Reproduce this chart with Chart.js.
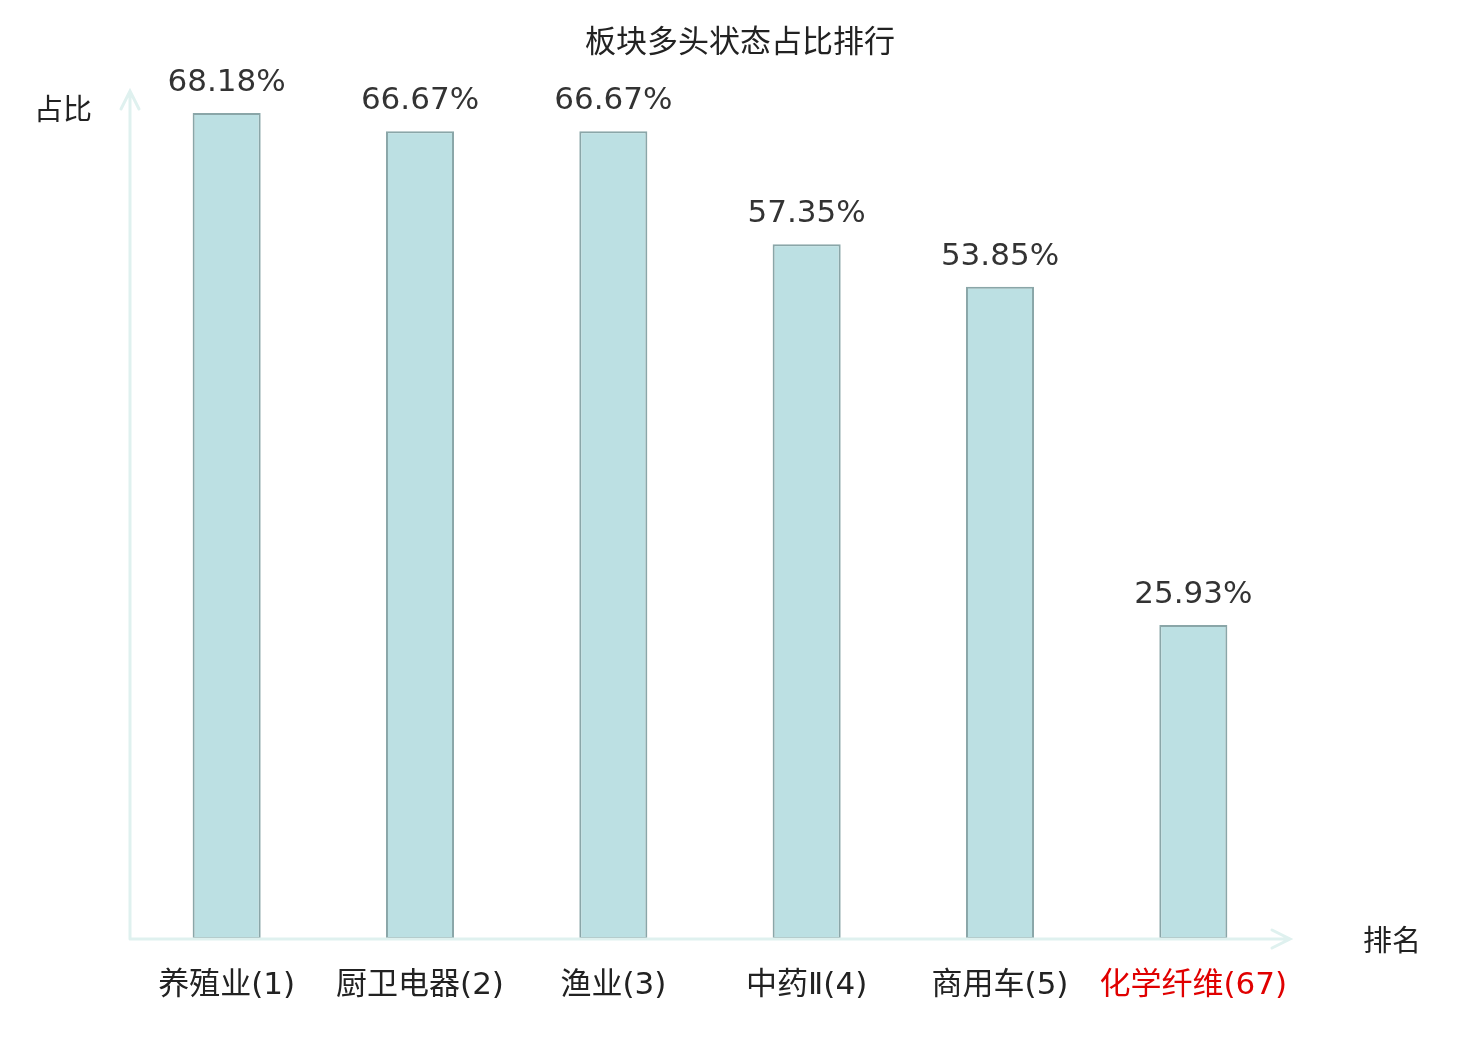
<!DOCTYPE html>
<html lang="zh">
<head>
  <meta charset="UTF-8">
  <title>板块多头状态占比排行</title>
  <script src="https://cdn.jsdelivr.net/npm/chart.js"></script>
  <style>
    html, body { margin: 0; padding: 0; background: #fff; }
    #wrap { width: 1480px; height: 1040px; }
  </style>
</head>
<body>
  <div id="wrap">
    <canvas id="rankChart" width="1480" height="1040"></canvas>
  </div>

  <script>
    const sectors = ["养殖业(1)", "厨卫电器(2)", "渔业(3)", "中药Ⅱ(4)", "商用车(5)", "化学纤维(67)"];
    const ratios = [68.18, 66.67, 66.67, 57.35, 53.85, 25.93];
    const labelColors = ["#222", "#222", "#222", "#222", "#222", "#e00000"];

    const FONT = '"DejaVu Sans", "Noto Sans CJK SC", sans-serif';
    const AXIS_COLOR = "#dff1ef";

    // title, axis arrows, axis names and value labels
    const decorPlugin = {
      id: "decor",
      afterDatasetsDraw(chart) {
        const { ctx, chartArea } = chart;
        const { left, right, top, bottom } = chartArea;
        ctx.save();

        // axes with arrow heads
        ctx.strokeStyle = AXIS_COLOR;
        ctx.lineWidth = 3;
        ctx.lineCap = "round";
        ctx.beginPath();
        ctx.moveTo(left, bottom);
        ctx.lineTo(right, bottom);
        ctx.moveTo(right - 18, bottom - 9);
        ctx.lineTo(right, bottom);
        ctx.lineTo(right - 18, bottom + 9);
        ctx.moveTo(left, bottom);
        ctx.lineTo(left, top);
        ctx.moveTo(left - 9, top + 18);
        ctx.lineTo(left, top);
        ctx.lineTo(left + 9, top + 18);
        ctx.stroke();

        // value labels
        const meta = chart.getDatasetMeta(0);
        ctx.fillStyle = "#333";
        ctx.font = "31px " + FONT;
        ctx.textAlign = "center";
        ctx.textBaseline = "middle";
        meta.data.forEach((bar, i) => {
          ctx.fillText(ratios[i].toFixed(2) + "%", bar.x, bar.y - 30);
        });

        // title and axis names
        ctx.fillStyle = "#222";
        ctx.font = "31px " + FONT;
        ctx.fillText("板块多头状态占比排行", 740, 44);
        ctx.font = "29px " + FONT;
        ctx.fillText("占比", 63, 112);
        ctx.fillText("排名", 1392, 943);
        ctx.restore();
      },
    };

    new Chart(document.getElementById("rankChart"), {
      type: "bar",
      data: {
        labels: sectors,
        datasets: [{
          data: ratios,
          backgroundColor: "#bce0e3",
          borderColor: "#8aa6a8",
          borderWidth: 2,
          borderSkipped: false,
          barPercentage: 0.352,
          categoryPercentage: 1,
        }],
      },
      options: {
        responsive: false,
        animation: false,
        layout: { padding: { left: 130, right: 190, top: 91, bottom: 0 } },
        plugins: { legend: { display: false }, tooltip: { enabled: false } },
        scales: {
          y: { display: false, min: 0, max: 70 },
          x: {
            grid: { display: false },
            border: { display: false },
            ticks: {
              padding: 20,
              maxRotation: 0,
              autoSkip: false,
              font: { size: 31, family: FONT },
              color: (c) => labelColors[c.index],
            },
            afterFit(scale) { scale.height = 101; },
          },
        },
      },
      plugins: [decorPlugin],
    });
  </script>
</body>
</html>
